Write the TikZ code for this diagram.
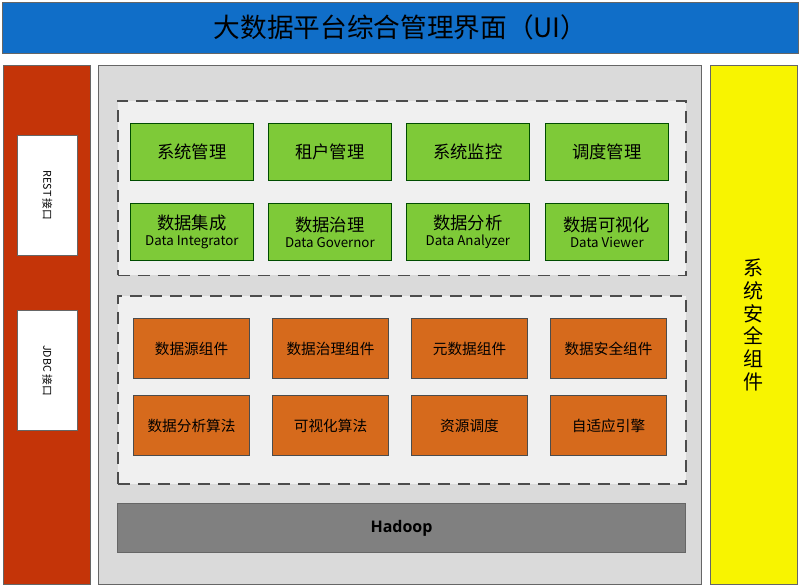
\documentclass[tikz,border=0pt]{standalone}
\usepackage{fontspec}
\setmainfont{Noto Sans CJK SC}
\setsansfont{Open Sans}
\usetikzlibrary{positioning}
\definecolor{topblue}{RGB}{16,110,200}
\definecolor{redpanel}{RGB}{196,52,8}
\definecolor{greenbox}{RGB}{126,202,56}
\definecolor{orangebox}{RGB}{214,106,28}
\definecolor{yellowpanel}{RGB}{248,244,0}
\definecolor{mainfill}{RGB}{218,218,218}
\definecolor{dashfill}{RGB}{240,240,240}
\definecolor{hadoopfill}{RGB}{128,128,128}

\begin{document}
\begin{tikzpicture}[x=0.75pt, y=-0.75pt,
	panel/.style = {draw = black!60, line width = 0.8pt, anchor = north west, inner sep = 0pt},
	region/.style = {panel, fill = dashfill, dashed, dash pattern = on 9pt off 6pt, line width = 1.2pt, draw = black!70},
	gbox/.style = {panel, fill = greenbox, draw = green!30!black, minimum width = 92pt, minimum height = 43pt, font = \fontsize{13}{14}\selectfont, align = center},
	obox/.style = {panel, fill = orangebox, draw = black!70, minimum width = 87pt, minimum height = 45pt, font = \fontsize{11}{12}\selectfont},
	ifbox/.style = {panel, fill = white, minimum width = 45pt, minimum height = 90pt}]
	\useasboundingbox (0,0) rectangle (800,588);
	% top bar
	\node[panel, fill = topblue, minimum width = 597pt, minimum height = 38pt, font = \fontsize{20}{22}\selectfont] (ui) at (2,2) {大数据平台综合管理界面（UI）};
	% side panels
	\node[panel, fill = redpanel, minimum width = 65pt, minimum height = 389pt] (left) at (3,65) {};
	\node[ifbox] (rest) at (17,135) {};
	\node[rotate = -90, font = \footnotesize] at (rest.center) {REST 接口};
	\node[ifbox] (jdbc) at (17,310) {};
	\node[rotate = -90, font = \footnotesize] at (jdbc.center) {JDBC 接口};
	\node[panel, fill = yellowpanel, minimum width = 65pt, minimum height = 389pt] (right) at (710,65) {};
	\node[font = \fontsize{15}{17}\selectfont, align = center] at (right.center) {系\\统\\安\\全\\组\\件};
	% main area
	\node[panel, fill = mainfill, minimum width = 452pt, minimum height = 389pt] (main) at (98,65) {};
	\node[region, minimum width = 426pt, minimum height = 131pt] (upper) at (117,100) {};
	\node[region, minimum width = 426pt, minimum height = 141pt] (lower) at (117,295) {};
	% green boxes
	\node[gbox] (g1) at (130,123) {系统管理};
	\node[gbox] (g2) at (268,123) {租户管理};
	\node[gbox] (g3) at (406,123) {系统监控};
	\node[gbox] (g4) at (545,123) {调度管理};
	\node[gbox] (g5) at (130,203) {数据集成\\[-2pt]{\fontsize{10}{11}\selectfont Data Integrator}};
	\node[gbox] (g6) at (268,203) {数据治理\\[-2pt]{\fontsize{10}{11}\selectfont Data Governor}};
	\node[gbox] (g7) at (406,203) {数据分析\\[-2pt]{\fontsize{10}{11}\selectfont Data Analyzer}};
	\node[gbox] (g8) at (545,203) {数据可视化\\[-2pt]{\fontsize{10}{11}\selectfont Data Viewer}};
	% orange boxes
	\node[obox] (o1) at (133,318) {数据源组件};
	\node[obox] (o2) at (272,318) {数据治理组件};
	\node[obox] (o3) at (411,318) {元数据组件};
	\node[obox] (o4) at (550,318) {数据安全组件};
	\node[obox] (o5) at (133,395) {数据分析算法};
	\node[obox] (o6) at (272,395) {可视化算法};
	\node[obox] (o7) at (411,395) {资源调度};
	\node[obox] (o8) at (550,395) {自适应引擎};
	% hadoop
	\node[panel, fill = hadoopfill, minimum width = 426pt, minimum height = 37pt, font = \bfseries\sffamily\large] (hadoop) at (117,503) {Hadoop};
\end{tikzpicture}
\end{document}
